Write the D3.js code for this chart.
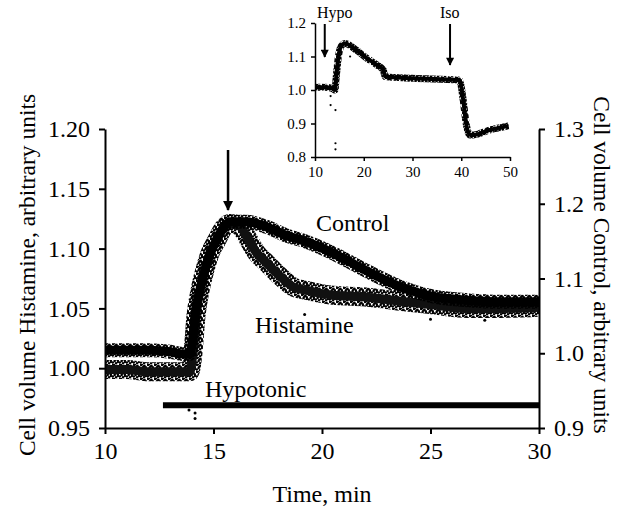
<!DOCTYPE html>
<html>
<head>
<meta charset="utf-8">
<script src="https://cdn.jsdelivr.net/npm/d3@7"></script>
<style>
  body { margin: 0; background: #fff; }
  svg { display: block; }
  text { font-family: 'Liberation Serif', 'Times New Roman', serif; fill: #000; }
</style>
</head>
<body>
<div class="container"></div>
<script>
// main plot, time in min
const xTicks = [10, 15, 20, 25, 30]
const leftTicks = [0.95, 1.00, 1.05, 1.10, 1.15, 1.20]
const rightTicks = [0.9, 1.0, 1.1, 1.2, 1.3]

// Control, right axis units
const controlT = [10, 11, 12, 13, 13.6, 13.9, 14.05, 14.15, 14.38, 14.6, 14.84, 15.15, 15.45, 15.76, 16.5, 17.45, 18.4, 19.0, 20.5, 22, 23.6, 25.1, 26.7, 28.2, 30]
const controlV = [1.004, 1.004, 1.004, 1.002, 0.999, 0.999, 1.022, 1.052, 1.086, 1.110, 1.133, 1.152, 1.168, 1.176, 1.176, 1.169, 1.157, 1.152, 1.134, 1.111, 1.089, 1.076, 1.071, 1.069, 1.069]

// Histamine, left axis units
const histT = [10, 11, 12, 13, 13.9, 14.05, 14.2, 14.38, 14.6, 14.84, 15.15, 15.45, 15.76, 16.2, 16.53, 17.0, 17.45, 18.06, 18.67, 19.3, 20.5, 22, 23.6, 25.1, 26.7, 28.2, 30]
const histV = [0.999, 0.999, 0.997, 0.997, 0.997, 1.012, 1.045, 1.065, 1.082, 1.096, 1.107, 1.117, 1.121, 1.119, 1.110, 1.096, 1.088, 1.077, 1.068, 1.065, 1.061, 1.0595, 1.056, 1.053, 1.050, 1.050, 1.051]
const histOutT = [13.87, 14.15, 14.15, 19.2, 25.0, 27.5]
const histOutV = [0.965, 0.9625, 0.958, 1.045, 1.041, 1.040]

const hypoStart = 12.67
const hypoLevel = 0.969

// inset
const insetXTicks = [10, 20, 30, 40, 50]
const insetYTicks = [0.8, 0.9, 1.0, 1.1, 1.2]
const insetT = [10, 12, 13.5, 14.1, 14.3, 14.8, 15.5, 16.15, 18.5, 20.6, 22.7, 24, 24.4, 30, 39.4, 39.7, 40.4, 41, 41.8, 42.5, 45.9, 49.7]
const insetV = [1.008, 1.008, 1.005, 1.0, 1.03, 1.10, 1.134, 1.139, 1.119, 1.095, 1.075, 1.06, 1.04, 1.035, 1.030, 1.028, 0.97, 0.90, 0.866, 0.866, 0.881, 0.893]
const insetOutT = [13.2, 13.2, 14.2, 14.2, 14.2, 17.2]
const insetOutV = [0.982, 0.955, 0.940, 0.841, 0.823, 1.10]

const w = 622
const h = 511

const svg = d3.select('.container')
  .append('svg')
  .attr('width', w)
  .attr('height', h)

const defs = svg.append('defs')
// irregular speckle tile so the bands look like dense dots
const speck = defs.append('pattern')
  .attr('id', 'speck')
  .attr('width', 7).attr('height', 7)
  .attr('patternUnits', 'userSpaceOnUse')
const speckDots = [[1, 1], [4.5, 1.8], [2.6, 3.9], [6, 5], [0.8, 5.6], [4, 6.3], [5.8, 3.2], [2.2, 0], [3.4, 2.6]]
speckDots.forEach(p => speck.append('circle').attr('cx', p[0]).attr('cy', p[1]).attr('r', 1.25).attr('fill', '#000'))

const marker = defs.append('marker')
  .attr('id', 'head')
  .attr('viewBox', '0 0 10 10')
  .attr('refX', 9).attr('refY', 5)
  .attr('markerWidth', 4.5).attr('markerHeight', 4)
  .attr('markerUnits', 'strokeWidth')
  .attr('orient', 'auto')
marker.append('path').attr('d', 'M0,0L10,5L0,10Z').attr('fill', '#000')

const x = d3.scaleLinear().domain([10, 30]).range([105, 539])
const yL = d3.scaleLinear().domain([0.95, 1.2]).range([428, 129])
const yR = d3.scaleLinear().domain([0.9, 1.3]).range([428, 129])

const styleAxis = (g, size) => {
  g.selectAll('path').attr('stroke', '#000').attr('stroke-width', 2)
  g.selectAll('line').attr('stroke', '#000').attr('stroke-width', 2)
  g.selectAll('text').attr('font-size', size).attr('font-family', "'Liberation Serif', serif").attr('fill', '#000')
}

// hypotonic bar
svg.append('line')
  .attr('x1', x(hypoStart)).attr('x2', x(30))
  .attr('y1', yL(hypoLevel)).attr('y2', yL(hypoLevel))
  .attr('stroke', '#000').attr('stroke-width', 6)

// bands
const histData = histT.map((t, i) => [t, histV[i]])
const ctrlData = controlT.map((t, i) => [t, controlV[i]])
const histLine = d3.line().x(d => x(d[0])).y(d => yL(d[1])).curve(d3.curveMonotoneX)
const ctrlLine = d3.line().x(d => x(d[0])).y(d => yR(d[1])).curve(d3.curveMonotoneX)

svg.append('path').attr('d', histLine(histData))
  .attr('fill', 'none').attr('stroke', 'url(#speck)').attr('stroke-width', 19)
svg.append('path').attr('d', histLine(histData))
  .attr('fill', 'none').attr('stroke', '#111').attr('stroke-width', 9)
svg.append('path').attr('d', ctrlLine(ctrlData))
  .attr('fill', 'none').attr('stroke', 'url(#speck)').attr('stroke-width', 14)
svg.append('path').attr('d', ctrlLine(ctrlData))
  .attr('fill', 'none').attr('stroke', '#000').attr('stroke-width', 9)

svg.selectAll('.hout')
  .data(histOutT)
  .enter()
  .append('circle')
  .attr('class', 'hout')
  .attr('cx', d => x(d))
  .attr('cy', (d, i) => yL(histOutV[i]))
  .attr('r', 1.5)

// axes
svg.append('g')
  .attr('transform', 'translate(0,428)')
  .call(d3.axisBottom(x).tickValues(xTicks).tickSize(6).tickSizeOuter(0).tickPadding(8))
  .call(g => styleAxis(g, 24))

svg.append('g')
  .attr('transform', 'translate(105,0)')
  .call(d3.axisLeft(yL).tickValues(leftTicks).tickFormat(d3.format('.2f')).tickSize(6).tickSizeOuter(0).tickPadding(9))
  .call(g => styleAxis(g, 24))

svg.append('g')
  .attr('transform', 'translate(539,0)')
  .call(d3.axisRight(yR).tickValues(rightTicks).tickFormat(d3.format('.1f')).tickSize(6).tickSizeOuter(0).tickPadding(9))
  .call(g => styleAxis(g, 24))

// labels
svg.append('text').text('Time, min')
  .attr('x', 322).attr('y', 502).attr('text-anchor', 'middle').attr('font-size', 24)
svg.append('text').text('Cell volume Histamine, arbitrary units')
  .attr('transform', 'translate(35,275) rotate(-90)')
  .attr('text-anchor', 'middle').attr('font-size', 23.5)
svg.append('text').text('Cell volume Control, arbitrary units')
  .attr('transform', 'translate(594,265) rotate(90)')
  .attr('text-anchor', 'middle').attr('font-size', 23.5)
svg.append('text').text('Control')
  .attr('x', 316).attr('y', 231).attr('font-size', 24)
svg.append('text').text('Histamine')
  .attr('x', 255).attr('y', 333).attr('font-size', 24)
svg.append('text').text('Hypotonic')
  .attr('x', 205).attr('y', 397).attr('font-size', 24)

svg.append('line')
  .attr('x1', x(15.67)).attr('x2', x(15.67))
  .attr('y1', 150).attr('y2', 210)
  .attr('stroke', '#000').attr('stroke-width', 2.5)
  .attr('marker-end', 'url(#head)')

// inset
const xi = d3.scaleLinear().domain([10, 50]).range([315, 510])
const yi = d3.scaleLinear().domain([0.8, 1.2]).range([157, 23])

const insetData = insetT.map((t, i) => [t, insetV[i]])
const insetLine = d3.line().x(d => xi(d[0])).y(d => yi(d[1])).curve(d3.curveMonotoneX)
svg.append('path').attr('d', insetLine(insetData))
  .attr('fill', 'none').attr('stroke', 'url(#speck)').attr('stroke-width', 7)
svg.append('path').attr('d', insetLine(insetData))
  .attr('fill', 'none').attr('stroke', '#000').attr('stroke-width', 4)

svg.selectAll('.iout')
  .data(insetOutT)
  .enter()
  .append('circle')
  .attr('class', 'iout')
  .attr('cx', d => xi(d))
  .attr('cy', (d, i) => yi(insetOutV[i]))
  .attr('r', 1.1)

svg.append('g')
  .attr('transform', 'translate(0,157)')
  .call(d3.axisBottom(xi).tickValues(insetXTicks).tickSize(4).tickSizeOuter(0).tickPadding(5))
  .call(g => styleAxis(g, 15))
  .call(g => g.selectAll('path, line').attr('stroke-width', 1.5))

svg.append('g')
  .attr('transform', 'translate(315,0)')
  .call(d3.axisLeft(yi).tickValues(insetYTicks).tickFormat(d3.format('.1f')).tickSize(4).tickSizeOuter(0).tickPadding(5))
  .call(g => styleAxis(g, 15))
  .call(g => g.selectAll('path, line').attr('stroke-width', 1.5))

svg.append('text').text('Hypo')
  .attr('x', 317).attr('y', 18).attr('font-size', 16)
svg.append('text').text('Iso')
  .attr('x', 440).attr('y', 18).attr('font-size', 16)

svg.append('line')
  .attr('x1', xi(12)).attr('x2', xi(12))
  .attr('y1', 24).attr('y2', 57)
  .attr('stroke', '#000').attr('stroke-width', 2)
  .attr('marker-end', 'url(#head)')
svg.append('line')
  .attr('x1', xi(37.7)).attr('x2', xi(37.7))
  .attr('y1', 24).attr('y2', 65)
  .attr('stroke', '#000').attr('stroke-width', 2)
  .attr('marker-end', 'url(#head)')
</script>
</body>
</html>
